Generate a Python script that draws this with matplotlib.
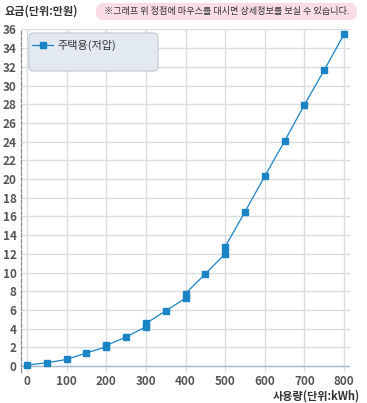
import matplotlib

matplotlib.use("Agg")
import matplotlib.pyplot as plt
from matplotlib.patches import FancyBboxPatch

plt.rcParams["font.family"] = ["Noto Sans CJK KR", "DejaVu Sans"]

# usage (kWh) and charge (10,000 won); tier boundaries appear twice
usage = [0, 50, 100, 150, 200, 200, 250, 300, 300, 350, 400, 400, 450,
         500, 500, 550, 600, 650, 700, 750, 800]
charge = [0.1, 0.35, 0.7, 1.4, 2.05, 2.2, 3.1, 4.2, 4.55, 5.9, 7.25, 7.75, 9.85,
          12.0, 12.75, 16.5, 20.3, 24.05, 27.95, 31.65, 35.5]
series_name = "주택용(저압)"
x_ticks = list(range(0, 801, 100))
y_ticks = list(range(0, 37, 2))

W, H = 367, 403
fig = plt.figure(figsize=(W / 100, H / 100), dpi=100)
ax = fig.add_axes([21 / W, (H - 372) / H, (350 - 21) / W, (372 - 29) / H])

line_color = "#1a84c7"
ax.plot(usage, charge, color=line_color, linewidth=0.9, marker="s",
        markersize=4.6, markerfacecolor=line_color, markeredgecolor=line_color,
        label=series_name, zorder=3)

ax.set_xlim(-15, 815)
ax.set_ylim(-0.64, 36.05)
ax.set_xticks(x_ticks)
ax.set_yticks(y_ticks)
ax.grid(True, color="#d9dde2", linewidth=1.0)
ax.axhline(0, color="#a9bccd", linewidth=1.0, zorder=2)
ax.set_axisbelow(True)

for side in ["top", "right", "bottom"]:
    ax.spines[side].set_visible(False)
ax.spines["left"].set_color("#8a8a8a")
ax.spines["left"].set_linestyle((0, (3, 1.5)))
ax.spines["left"].set_linewidth(0.9)

ax.tick_params(length=0, labelsize=8.5, labelcolor="#555555")
for lbl in ax.get_xticklabels() + ax.get_yticklabels():
    lbl.set_fontweight("bold")
ax.tick_params(axis="x", pad=2)
ax.tick_params(axis="y", pad=3)

# legend box drawn as its own patch, entries without frame
box = FancyBboxPatch((29 / W, 1 - 71 / H), (158 - 29) / W, 38 / H,
                     boxstyle="round,pad=0,rounding_size=0.012",
                     transform=fig.transFigure, facecolor="#e3e9f0",
                     edgecolor="#c6cdd5", linewidth=0.9, zorder=4,
                     clip_on=False)
ax.add_patch(box)
leg = ax.legend(loc="center left", bbox_to_anchor=(32 / W, 1 - 45 / H),
                bbox_transform=fig.transFigure, frameon=False, fontsize=8,
                handlelength=1.9, handletextpad=0.4, borderpad=0,
                borderaxespad=0)
for t in leg.get_texts():
    t.set_color("#333333")
leg.set_zorder(5)

fig.text(5 / W, 1 - 11 / H, "요금(단위:만원)", fontsize=8, fontweight="bold",
         color="#333333", va="center", ha="left")
fig.text(360 / W, 1 - 396 / H, "사용량(단위:kWh)", fontsize=8, fontweight="bold",
         color="#333333", va="center", ha="right")

note = FancyBboxPatch((96 / W, 1 - 20 / H), (357 - 96) / W, 17 / H,
                      boxstyle="round,pad=0,rounding_size=0.02",
                      transform=fig.transFigure, facecolor="#f9dce6",
                      edgecolor="none", zorder=1)
fig.patches.append(note)
fig.text((96 + 357) / 2 / W, 1 - 11.5 / H,
         "※그래프 위 정점에 마우스를 대시면 상세정보를 보실 수 있습니다.",
         fontsize=6.6, color="#333333", va="center", ha="center", zorder=2)

fig.savefig("out.png", dpi=100)
